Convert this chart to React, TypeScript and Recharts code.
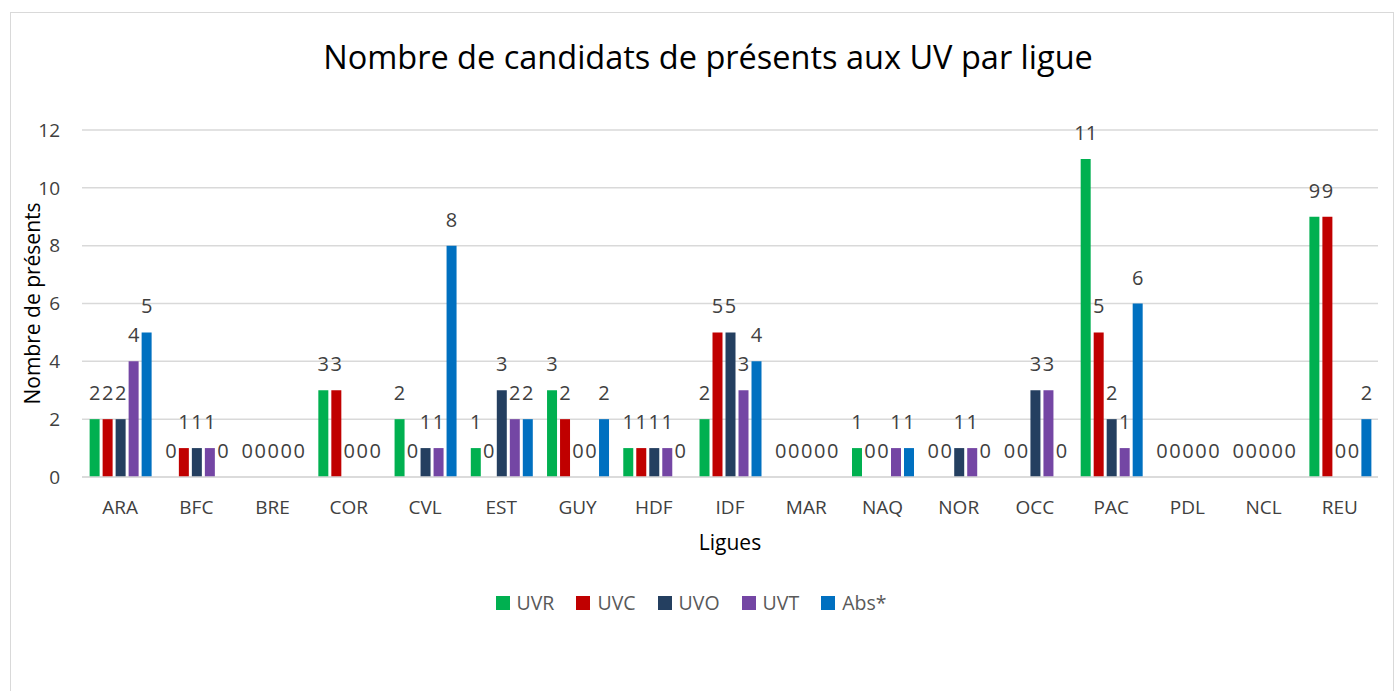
import React from 'react';
import { BarChart, Bar, XAxis, YAxis, CartesianGrid, LabelList, Label } from 'recharts';

const ligues = ['ARA', 'BFC', 'BRE', 'COR', 'CVL', 'EST', 'GUY', 'HDF', 'IDF', 'MAR', 'NAQ', 'NOR', 'OCC', 'PAC', 'PDL', 'NCL', 'REU'];
const uvr = [2, 0, 0, 3, 2, 1, 3, 1, 2, 0, 1, 0, 0, 11, 0, 0, 9];
const uvc = [2, 1, 0, 3, 0, 0, 2, 1, 5, 0, 0, 0, 0, 5, 0, 0, 9];
const uvo = [2, 1, 0, 0, 1, 3, 0, 1, 5, 0, 0, 1, 3, 2, 0, 0, 0];
const uvt = [4, 1, 0, 0, 1, 2, 0, 1, 3, 0, 1, 1, 3, 1, 0, 0, 0];
const abs = [5, 0, 0, 0, 8, 2, 2, 0, 4, 0, 1, 0, 0, 6, 0, 0, 2];
const yTicks = [0, 2, 4, 6, 8, 10, 12];

const SERIES = [
  { key: 'UVR', color: '#00B050' },
  { key: 'UVC', color: '#C00000' },
  { key: 'UVO', color: '#243F60' },
  { key: 'UVT', color: '#7446A4' },
  { key: 'Abs*', color: '#0070C0' },
];

const data = ligues.map((name, i) => ({
  name,
  UVR: uvr[i],
  UVC: uvc[i],
  UVO: uvo[i],
  UVT: uvt[i],
  'Abs*': abs[i],
}));

const FONT = '"Open Sans", "Noto Sans", sans-serif';

// labels drawn for every bar, zeros included
const BarValue = (props: any) => {
  const { x, y, width, value } = props;
  return (
    <text
      x={x + width / 2}
      y={y - 19}
      textAnchor="middle"
      style={{ fontSize: 20, fill: '#404040', fontFamily: FONT }}
    >
      {value}
    </text>
  );
};

export default function App() {
  return (
    <div
      style={{
        position: 'absolute',
        left: 10,
        top: 12,
        width: 1382,
        height: 700,
        border: '1px solid #d9d9d9',
        background: '#fff',
        fontFamily: FONT,
      }}
    >
      <div
        style={{
          position: 'absolute',
          top: 21,
          left: 6,
          width: '100%',
          textAlign: 'center',
          fontSize: 32.5,
          color: '#000',
        }}
      >
        Nombre de candidats de présents aux UV par ligue
      </div>
      <BarChart
        width={1380}
        height={698}
        data={data}
        margin={{ top: 117, right: 13, bottom: 0, left: 0 }}
        barCategoryGap="10%"
        barGap={3}
        style={{ fontFamily: FONT }}
      >
        <CartesianGrid vertical={false} stroke="#d9d9d9" strokeWidth={1.5} />
        <XAxis
          dataKey="name"
          tickLine={false}
          axisLine={{ stroke: '#d9d9d9', strokeWidth: 1.5 }}
          tick={{ fontSize: 19, fill: '#404040' }}
          tickMargin={18}
          height={234}
        >
          <Label value="Ligues" position="insideTop" offset={58} style={{ fontSize: 21, fill: '#000' }} />
        </XAxis>
        <YAxis
          width={71}
          domain={[0, 12]}
          ticks={yTicks}
          tickLine={false}
          axisLine={false}
          tickSize={0}
          tickMargin={22}
          tick={{ fontSize: 19, fill: '#404040' }}
        >
          <Label
            value="Nombre de présents"
            angle={-90}
            position="insideLeft"
            offset={22}
            style={{ fontSize: 21, fill: '#000', textAnchor: 'middle' }}
          />
        </YAxis>
        {SERIES.map((s) => (
          <Bar key={s.key} dataKey={s.key} fill={s.color} minPointSize={0.01} isAnimationActive={false}>
            <LabelList dataKey={s.key} content={<BarValue />} />
          </Bar>
        ))}
      </BarChart>
      <div
        style={{
          position: 'absolute',
          top: 576,
          left: -11,
          width: '100%',
          display: 'flex',
          justifyContent: 'center',
          gap: 22,
          fontSize: 19.5,
          color: '#595959',
        }}
      >
        {SERIES.map((s) => (
          <div key={s.key} style={{ display: 'flex', alignItems: 'center', gap: 7 }}>
            <span style={{ display: 'inline-block', width: 14, height: 14, background: s.color }} />
            <span>{s.key}</span>
          </div>
        ))}
      </div>
    </div>
  );
}
